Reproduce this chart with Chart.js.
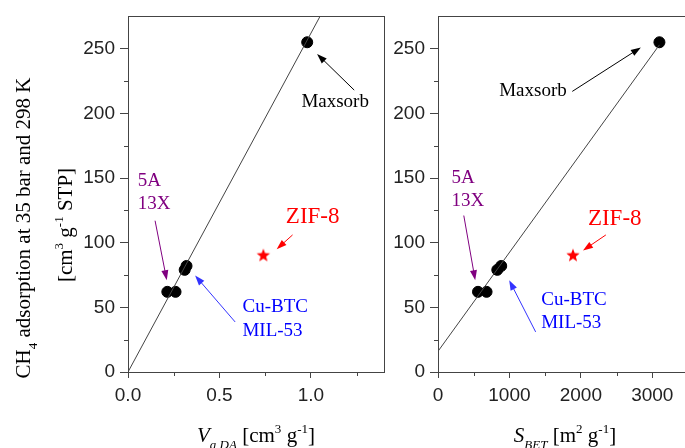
<!DOCTYPE html>
<html lang="en">
<head>
<meta charset="UTF-8">
<title>CH4 adsorption vs pore volume and BET area</title>
<script src="https://cdn.jsdelivr.net/npm/chart.js@4.4.1/dist/chart.umd.min.js"></script>
<style>
  html, body { margin: 0; padding: 0; background: #fff; overflow: hidden; }
  .panel { position: absolute; top: 0; height: 448px; }
  #leftPanel { left: 0; width: 392px; }
  #rightPanel { left: 386px; width: 310px; }
</style>
</head>
<body>
<div class="panel" id="leftPanel"><canvas id="volChart"></canvas></div>
<div class="panel" id="rightPanel"><canvas id="betChart"></canvas></div>

<script>
// CH4 uptake at 35 bar / 298 K [cm3 g-1 STP]
const materials = ['Maxsorb', '5A', '13X', 'Cu-BTC', 'MIL-53'];
const uptake = [255, 62, 62, 79, 82];
const poreVolume = [0.98, 0.215, 0.26, 0.31, 0.32];   // cm3/g
const surfaceArea = [3100, 560, 680, 830, 885];        // m2/g

const zifUptake = [90];
const zifVolume = [0.74];
const zifArea = [1890];

// straight lines drawn through the points
const volFitX = [0, 1.05];
const volFitY = [0, 275];
const areaFitX = [0, 3100];
const areaFitY = [16, 253];

// ticks
const yTicks = [0, 50, 100, 150, 200, 250];
const yMinor = [25, 75, 125, 175, 225];
const volTicks = [0, 0.5, 1.0];
const volMinor = [0.25, 0.75, 1.25];
const areaTicks = [0, 1000, 2000, 3000];
const areaMinor = [500, 1500, 2500];

const serif = '"Liberation Serif", "Times New Roman", serif';
const sans = '"Liberation Sans", Arial, sans-serif';
const PURPLE = '#800080', BLUE = '#0000ff', RED = '#ff0000';

// filled star for ZIF-8
function makeStar(r, color) {
  const c = document.createElement('canvas');
  c.width = c.height = 2 * r + 2;
  const g = c.getContext('2d');
  g.translate(r + 1, r + 1);
  g.beginPath();
  for (let i = 0; i < 10; i++) {
    const rad = i % 2 ? r * 0.42 : r;
    const a = -Math.PI / 2 + i * Math.PI / 5;
    g.lineTo(rad * Math.cos(a), rad * Math.sin(a));
  }
  g.closePath();
  g.fillStyle = color;
  g.fill();
  return c;
}
const star = makeStar(7, RED);

// text with sub / superscripts
function drawRich(ctx, parts, cx, baseY, size, angle) {
  ctx.save();
  ctx.translate(cx, baseY);
  ctx.rotate(angle);
  const fontOf = p => {
    const s = (p.sub || p.sup) ? size * 0.62 : size;
    return (p.it ? 'italic ' : '') + s + 'px ' + serif;
  };
  let total = 0;
  parts.forEach(p => { ctx.font = fontOf(p); p.w = ctx.measureText(p.t).width; total += p.w; });
  let px = -total / 2;
  ctx.textAlign = 'left';
  ctx.textBaseline = 'alphabetic';
  ctx.fillStyle = '#000';
  parts.forEach(p => {
    ctx.font = fontOf(p);
    const dy = p.sub ? size * 0.32 : p.sup ? -size * 0.45 : 0;
    ctx.fillText(p.t, px, dy);
    px += p.w;
  });
  ctx.restore();
}

function arrow(ctx, x1, y1, x2, y2, color) {
  const ang = Math.atan2(y2 - y1, x2 - x1);
  const L = 10, W = 3.5;
  ctx.strokeStyle = color;
  ctx.fillStyle = color;
  ctx.lineWidth = 1;
  ctx.beginPath();
  ctx.moveTo(x1, y1);
  ctx.lineTo(x2 - L * 0.8 * Math.cos(ang), y2 - L * 0.8 * Math.sin(ang));
  ctx.stroke();
  ctx.beginPath();
  ctx.moveTo(x2, y2);
  ctx.lineTo(x2 - L * Math.cos(ang) + W * Math.sin(ang), y2 - L * Math.sin(ang) - W * Math.cos(ang));
  ctx.lineTo(x2 - L * Math.cos(ang) - W * Math.sin(ang), y2 - L * Math.sin(ang) + W * Math.cos(ang));
  ctx.closePath();
  ctx.fill();
}

// frame, minor ticks, labels, arrows, axis titles
const decor = {
  id: 'decor',
  afterDraw(chart, args, opts) {
    const { ctx, chartArea: a } = chart;
    const sx = chart.scales.x, sy = chart.scales.y;
    ctx.save();
    ctx.strokeStyle = '#444';
    ctx.lineWidth = 1;
    ctx.strokeRect(Math.round(a.left) + 0.5, Math.round(a.top) + 0.5,
      Math.round(a.right - a.left), Math.round(a.bottom - a.top));

    ctx.beginPath();
    yMinor.forEach(v => {
      const py = Math.round(sy.getPixelForValue(v)) + 0.5;
      ctx.moveTo(a.left - 4, py); ctx.lineTo(a.left, py);
    });
    opts.xMinor.forEach(v => {
      const px = Math.round(sx.getPixelForValue(v)) + 0.5;
      ctx.moveTo(px, a.bottom); ctx.lineTo(px, a.bottom + 4);
    });
    ctx.stroke();

    opts.arrows.forEach(r => arrow(ctx,
      sx.getPixelForValue(r.from[0]), sy.getPixelForValue(r.from[1]),
      sx.getPixelForValue(r.to[0]), sy.getPixelForValue(r.to[1]), r.color));

    ctx.textBaseline = 'middle';
    opts.notes.forEach(n => {
      ctx.font = n.size + 'px ' + serif;
      ctx.fillStyle = n.color;
      ctx.textAlign = n.align || 'center';
      ctx.fillText(n.text, sx.getPixelForValue(n.x), sy.getPixelForValue(n.y));
    });

    opts.titles.forEach(t => drawRich(ctx, t.parts, t.x, t.y, t.size, t.angle || 0));
    ctx.restore();
  }
};

function makeChart(id, xs, ys, zx, fitX, fitY, xMax, xTickVals, yWidth, padRight, tickFmt, deco) {
  new Chart(document.getElementById(id), {
    data: {
      datasets: [
        {
          type: 'line',
          data: fitX.map((v, i) => ({ x: v, y: fitY[i] })),
          borderColor: '#444', borderWidth: 1, pointRadius: 0, fill: false
        },
        {
          type: 'scatter',
          label: 'materials',
          data: xs.map((v, i) => ({ x: v, y: ys[i] })),
          backgroundColor: '#000', borderColor: '#000', pointRadius: 5.5
        },
        {
          type: 'scatter',
          label: 'ZIF-8',
          data: zx.map((v, i) => ({ x: v, y: zifUptake[i] })),
          pointStyle: star, pointRadius: 7
        }
      ]
    },
    options: {
      responsive: true,
      maintainAspectRatio: false,
      animation: false,
      layout: { padding: { top: 15, right: padRight, left: 0, bottom: 0 } },
      plugins: { legend: { display: false }, tooltip: { enabled: false }, decor: deco },
      scales: {
        x: {
          type: 'linear', min: 0, max: xMax,
          afterBuildTicks: s => { s.ticks = xTickVals.map(v => ({ value: v })); },
          afterFit: s => { s.height = 76; },
          grid: { drawOnChartArea: false, tickLength: 6, color: '#444' },
          border: { color: '#444' },
          ticks: { autoSkip: false, maxRotation: 0, padding: 6, color: '#222',
                   font: { family: sans, size: 19 }, callback: tickFmt }
        },
        y: {
          type: 'linear', min: 0, max: 275,
          afterBuildTicks: s => { s.ticks = yTicks.map(v => ({ value: v })); },
          afterFit: s => { s.width = yWidth; },
          grid: { drawOnChartArea: false, tickLength: 8, color: '#444' },
          border: { color: '#444' },
          ticks: { autoSkip: false, padding: 5, color: '#222',
                   font: { family: sans, size: 19 } }
        }
      }
    },
    plugins: [decor]
  });
}

// left: pore volume
makeChart('volChart', poreVolume, uptake, zifVolume, volFitX, volFitY, 1.4, volTicks, 128, 8,
  v => v.toFixed(1), {
    xMinor: volMinor,
    notes: [
      { text: 'Maxsorb', x: 1.133, y: 209, size: 19, color: '#000' },
      { text: '5A', x: 0.053, y: 148, size: 19, color: PURPLE, align: 'left' },
      { text: '13X', x: 0.053, y: 130, size: 19, color: PURPLE, align: 'left' },
      { text: 'ZIF-8', x: 1.01, y: 120, size: 23, color: RED },
      { text: 'Cu-BTC', x: 0.626, y: 50, size: 19, color: BLUE, align: 'left' },
      { text: 'MIL-53', x: 0.626, y: 32, size: 19, color: BLUE, align: 'left' }
    ],
    arrows: [
      { from: [1.237, 218], to: [1.034, 246], color: '#000' },
      { from: [0.148, 117], to: [0.212, 71], color: PURPLE },
      { from: [0.90, 106], to: [0.813, 95], color: RED },
      { from: [0.586, 38.7], to: [0.367, 74.6], color: '#3333ff' }
    ],
    titles: [
      { parts: [{ t: 'CH' }, { t: '4', sub: true }, { t: ' adsorption at 35 bar and 298 K' }],
        x: 30, y: 228, size: 21, angle: -Math.PI / 2 },
      { parts: [{ t: '[cm' }, { t: '3', sup: true }, { t: ' g' }, { t: '-1', sup: true }, { t: ' STP]' }],
        x: 72, y: 225, size: 21, angle: -Math.PI / 2 },
      { parts: [{ t: 'V', it: true }, { t: 'a,DA', it: true, sub: true }, { t: ' [cm' }, { t: '3', sup: true },
                { t: ' g' }, { t: '-1', sup: true }, { t: ']' }],
        x: 256, y: 442, size: 21 }
    ]
  });

// right: BET surface area
makeChart('betChart', surfaceArea, uptake, zifArea, areaFitX, areaFitY, 3500, areaTicks, 52, 3,
  v => String(v), {
    xMinor: areaMinor,
    notes: [
      { text: 'Maxsorb', x: 1330, y: 217, size: 19, color: '#000' },
      { text: '5A', x: 188, y: 150, size: 19, color: PURPLE, align: 'left' },
      { text: '13X', x: 188, y: 132, size: 19, color: PURPLE, align: 'left' },
      { text: 'ZIF-8', x: 2474, y: 118, size: 23, color: RED },
      { text: 'Cu-BTC', x: 1445, y: 56, size: 19, color: BLUE, align: 'left' },
      { text: 'MIL-53', x: 1445, y: 37.5, size: 19, color: BLUE, align: 'left' }
    ],
    arrows: [
      { from: [1880, 217], to: [2840, 251], color: '#000' },
      { from: [361, 121], to: [521, 71], color: PURPLE },
      { from: [2350, 106], to: [2030, 94], color: RED },
      { from: [1367, 31], to: [997, 71], color: '#3333ff' }
    ],
    titles: [
      { parts: [{ t: 'S', it: true }, { t: 'BET', it: true, sub: true }, { t: ' [m' }, { t: '2', sup: true },
                { t: ' g' }, { t: '-1', sup: true }, { t: ']' }],
        x: 179, y: 442, size: 21 }
    ]
  });
</script>
</body>
</html>
